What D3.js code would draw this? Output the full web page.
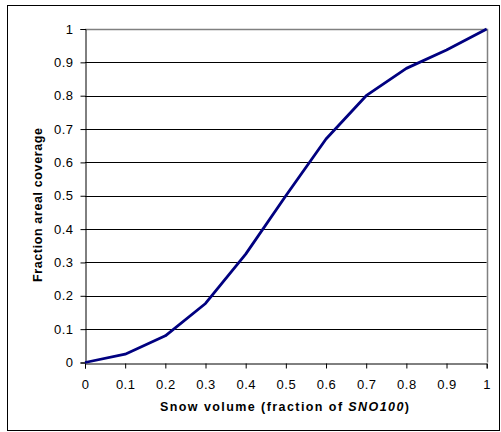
<!DOCTYPE html>
<html>
<head>
<meta charset="utf-8">
<script src="https://cdn.jsdelivr.net/npm/d3@7"></script>
<style>
  body { margin: 0; background: #fff; }
  text { font-family: "Liberation Sans", Arial, sans-serif; }
</style>
</head>
<body>
<svg width="501" height="432"></svg>
<script>
// snow volume (fraction of SNO100) vs fraction areal coverage
var snowVolume = [0, 0.1, 0.2, 0.3, 0.4, 0.5, 0.6, 0.7, 0.8, 0.9, 1];
var coverage   = [0, 0.025, 0.08, 0.177, 0.325, 0.5, 0.67, 0.8, 0.882, 0.937, 1];
var xTicks = [0, 0.1, 0.2, 0.3, 0.4, 0.5, 0.6, 0.7, 0.8, 0.9, 1];
var yTicks = [0, 0.1, 0.2, 0.3, 0.4, 0.5, 0.6, 0.7, 0.8, 0.9, 1];

var svg = d3.select("svg"),
    plotLeft = 85, plotTop = 29, plotRight = 486.7, plotBottom = 362.5;

// outer chart border
svg.append("rect")
    .attr("x", 7.5).attr("y", 5.5)
    .attr("width", 492).attr("height", 425)
    .attr("fill", "#fff")
    .attr("stroke", "#000")
    .attr("stroke-width", 1);

var x = d3.scaleLinear().domain([0, 1]).range([plotLeft, plotRight]),
    y = d3.scaleLinear().domain([0, 1]).range([plotBottom, plotTop]);

// horizontal gridlines
svg.append("g")
    .selectAll("line")
    .data(yTicks.slice(1))
    .enter().append("line")
    .attr("x1", plotLeft).attr("x2", plotRight)
    .attr("y1", function(d) { return Math.round(y(d)) + 0.5; })
    .attr("y2", function(d) { return Math.round(y(d)) + 0.5; })
    .attr("stroke", "#000")
    .attr("stroke-width", 1);

// plot area border (grey) on right and top
svg.append("path")
    .attr("d", "M" + plotLeft + "," + (Math.round(plotTop) + 0.5) + "H" + (Math.round(plotRight) + 0.5) + "V" + plotBottom)
    .attr("fill", "none")
    .attr("stroke", "#808080")
    .attr("stroke-width", 1.5);

var fmt = function(d) { return String(+d.toFixed(1)); };

var xAxis = svg.append("g")
    .attr("transform", "translate(0," + (Math.round(plotBottom) + 0.5) + ")")
    .call(d3.axisBottom(x).tickValues(xTicks).tickSize(5).tickPadding(11).tickFormat(fmt));

var yAxis = svg.append("g")
    .attr("transform", "translate(" + (Math.round(plotLeft) + 0.5) + ",0)")
    .call(d3.axisLeft(y).tickValues(yTicks).tickSize(5).tickPadding(7).tickFormat(fmt));

[xAxis, yAxis].forEach(function(a) {
    a.select(".domain").attr("stroke", "#000");
    a.selectAll(".tick line").attr("stroke", "#000");
    a.selectAll("text")
        .attr("font-family", "Liberation Sans, Arial, sans-serif")
        .attr("font-size", "13px")
        .attr("letter-spacing", "0.5px")
        .attr("fill", "#000");
});

// the curve
var line = d3.line()
    .x(function(d, i) { return x(snowVolume[i]); })
    .y(function(d) { return y(d); });

svg.append("path")
    .datum(coverage)
    .attr("d", line)
    .attr("fill", "none")
    .attr("stroke", "#000080")
    .attr("stroke-width", 2.8)
    .attr("stroke-linejoin", "round");

// axis titles
var xt = svg.append("text")
    .attr("x", 160)
    .attr("y", 410.5)
    .attr("textLength", 249)
    .attr("lengthAdjust", "spacing")
    .attr("font-size", "12.5px")
    .attr("font-weight", "bold");
xt.append("tspan").text("Snow volume (fraction of ");
xt.append("tspan").attr("font-style", "italic").text("SNO100");
xt.append("tspan").text(")");

svg.append("text")
    .attr("transform", "translate(42,282) rotate(-90)")
    .attr("textLength", 154)
    .attr("lengthAdjust", "spacing")
    .attr("font-size", "12.5px")
    .attr("font-weight", "bold")
    .text("Fraction areal coverage");
</script>
</body>
</html>
